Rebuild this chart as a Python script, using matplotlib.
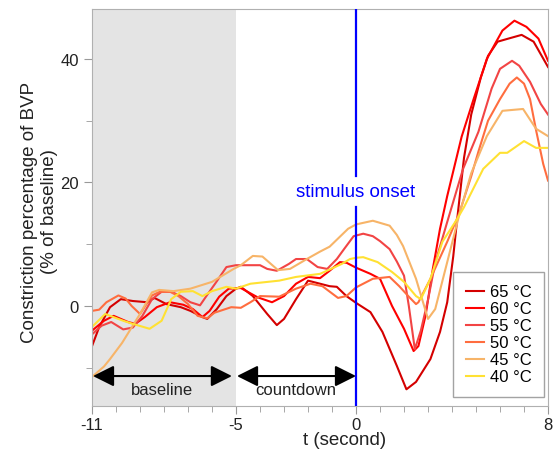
import numpy as np
import matplotlib
matplotlib.use('Agg')
import matplotlib.pyplot as plt
from matplotlib.ticker import MultipleLocator, FixedLocator

plt.rcParams['font.family'] = ['Liberation Sans', 'DejaVu Sans']
plt.rcParams['axes.unicode_minus'] = False

# time (s) and constriction (% of baseline) per stimulus temperature
T_65 = [-11, -10.7, -10.25, -9.8, -9.3, -8.7, -8.4, -7.9, -7.3, -6.9, -6.4, -6.2, -5.8, -5.4, -5.0, -4.8,
        -4.3, -3.7, -3.3, -3.0, -2.5, -2.0, -1.5, -1.1, -0.8, -0.4, 0.0, 0.6, 1.1, 1.7, 2.1, 2.5, 3.1,
        3.5, 3.8, 4.05, 4.2, 4.5, 4.8, 5.2, 5.5, 5.9, 6.35, 6.9, 7.4, 8.0]
V_65 = [-6.5, -3.4, -0.2, 1.1, 0.8, 0.6, 1.3, 0.3, -0.2, -0.8, -1.8, -2.1, -0.5, 1.6, 2.8, 3.1,
        1.6, -1.3, -3.1, -2.1, 1.1, 4.1, 3.6, 3.2, 3.1, 1.6, 0.5, -1.0, -4.2, -9.7, -13.5, -12.3, -8.6,
        -4.2, 0.6, 8.0, 13.5, 24.0, 31.0, 37.0, 40.5, 42.8, 43.3, 43.9, 42.8, 38.7]

T_60 = [-11, -10.5, -10.1, -9.5, -9.2, -8.8, -8.3, -7.75, -7.2, -6.8, -6.4, -6.1, -5.7, -5.3, -4.8,
        -4.1, -3.5, -3.0, -2.5, -2.0, -1.5, -1.1, -0.67, -0.4, 0.0, 0.6, 1.0, 1.5, 2.0, 2.4, 2.6, 2.9,
        3.2, 3.5, 3.8, 4.4, 4.9, 5.45, 5.8, 6.1, 6.6, 7.1, 7.6, 8.0]
V_60 = [-4.0, -2.4, -1.6, -2.6, -2.9, -1.8, -0.2, 0.6, 0.2, -0.5, -1.8, -0.8, 1.5, 2.8, 2.9,
        1.4, 0.6, 1.6, 3.6, 4.7, 4.5, 5.7, 7.1, 7.0, 6.2, 5.2, 4.4, 0.0, -3.7, -7.3, -6.5, -1.5,
        6.0, 12.5, 17.8, 27.4, 33.5, 40.0, 42.5, 44.6, 46.2, 45.2, 43.3, 39.7]

T_55 = [-11, -10.6, -10.2, -9.7, -9.3, -8.9, -8.5, -8.1, -7.7, -7.3, -6.9, -6.5, -6.2, -5.8, -5.4,
        -5.0, -4.5, -4.0, -3.7, -3.3, -2.8, -2.5, -2.05, -1.6, -1.2, -0.8, -0.5, -0.1, 0.3, 0.7, 1.0,
        1.4, 1.7, 2.0, 2.2, 2.45, 2.7, 3.0, 3.3, 3.8, 4.46, 5.1, 5.65, 6.0, 6.5, 6.8, 7.25, 7.7, 8.0]
V_55 = [-4.6, -3.2, -2.6, -3.8, -3.5, -1.6, 1.1, 2.3, 2.3, 1.6, 0.6, 0.1, 1.8, 4.0, 6.3,
        6.6, 6.6, 6.6, 6.0, 5.7, 6.8, 7.6, 7.6, 6.3, 6.0, 7.6, 9.2, 11.3, 11.7, 11.3, 10.5,
        9.2, 7.2, 4.9, 0.0, -7.0, -4.0, 1.0, 7.0, 13.6, 22.2, 28.2, 35.2, 38.4, 39.7, 38.9, 36.3, 32.7, 31.0]

T_50 = [-11, -10.7, -10.4, -9.9, -9.6, -9.35, -9.0, -8.5, -8.17, -7.75, -7.4, -7.0, -6.6, -6.2, -5.9,
        -5.2, -4.8, -4.4, -4.0, -3.2, -2.5, -1.9, -1.4, -0.75, -0.4, 0.0, 0.7, 1.4, 1.8, 2.2, 2.5,
        2.6, 3.1, 3.8, 4.3, 4.8, 5.1, 5.5, 6.0, 6.4, 6.7, 7.0, 7.25, 7.5, 7.8, 8.0]
V_50 = [-0.8, -0.6, 0.6, 1.7, 1.2, 0.0, -1.3, 1.7, 2.3, 2.3, 1.6, 0.3, -1.6, -2.0, -1.1,
        -0.2, -0.3, 0.6, 1.6, 1.5, 2.8, 3.6, 3.2, 1.3, 1.6, 3.0, 4.4, 4.7, 3.2, 1.5, 0.3,
        0.6, 4.4, 10.4, 15.0, 21.0, 25.0, 30.0, 33.5, 36.0, 37.0, 36.0, 33.5, 28.5, 23.0, 20.3]

T_45 = [-11, -10.5, -10.25, -9.75, -9.0, -8.5, -8.2, -7.6, -6.9, -6.0, -5.1, -4.8, -4.3, -3.9, -3.25,
        -2.75, -2.05, -1.5, -1.1, -0.33, 0.0, 0.7, 1.4, 1.7, 1.96, 2.5, 3.0, 3.3, 3.8, 4.33, 4.8,
        5.45, 6.1, 6.96, 7.5, 8.0]
V_45 = [-11.5, -9.8, -8.6, -6.0, -1.3, 2.2, 2.6, 2.4, 2.8, 3.9, 6.0, 6.6, 8.1, 8.0, 5.8,
        6.0, 7.6, 8.8, 9.6, 12.5, 13.2, 13.8, 13.0, 11.5, 9.7, 4.4, -2.1, -0.5, 7.1, 15.2, 21.5,
        27.5, 31.6, 31.9, 28.7, 27.5]

T_40 = [-11, -10.45, -9.7, -9.3, -8.6, -8.1, -7.7, -7.3, -6.8, -6.4, -6.0, -5.4, -5.0, -4.4, -3.2,
        -2.5, -1.5, -1.1, -0.6, -0.25, 0.0, 0.3, 0.9, 1.5, 2.0, 2.5, 2.7, 3.1, 3.6, 4.2, 4.5, 5.3,
        6.0, 6.3, 7.0, 7.5, 8.0]
V_40 = [-3.4, -1.3, -2.4, -2.9, -3.7, -2.4, 1.1, 2.3, 2.4, 1.6, 2.4, 3.1, 2.8, 3.6, 4.1,
        4.7, 5.2, 5.9, 6.8, 7.6, 7.8, 7.9, 7.1, 5.5, 3.9, 1.6, 1.1, 4.4, 10.4, 14.0, 16.0, 22.2,
        24.8, 24.8, 26.7, 25.6, 25.6]

LABELS = ['65 °C', '60 °C', '55 °C', '50 °C', '45 °C', '40 °C']
SERIES = [(T_65, V_65), (T_60, V_60), (T_55, V_55), (T_50, V_50), (T_45, V_45), (T_40, V_40)]
COLORS = ['#d40000', '#ff0000', '#f24444', '#ff6d3f', '#f7b468', '#ffe133']

X_TICKS = [-11, -5, 0, 8]
Y_TICKS = [0, 20, 40]

fig = plt.figure(figsize=(5.53, 4.52), dpi=100)
ax = fig.add_axes([0.1664, 0.0996, 0.8246, 0.8784])

ax.axvspan(-11, -5, color='#e4e4e4', zorder=0, lw=0)

for (t, v), c, lab in zip(SERIES, COLORS, LABELS):
    ax.plot(t, v, color=c, lw=1.5, label=lab, zorder=2)

ax.set_xlim(-11, 8)
ax.set_ylim(-16.2, 48.1)

# stimulus onset line with a gap for the label
ax.axvline(0, ymin=0, ymax=0.5008, color='#0000ff', lw=1.6, zorder=3)
ax.axvline(0, ymin=0.5785, ymax=1, color='#0000ff', lw=1.6, zorder=3)
ax.text(0, 18.6, 'stimulus onset', color='#0000ff', fontsize=13.5, ha='center', va='center')

# baseline / countdown arrows
arrow = dict(arrowstyle='<|-|>', color='black', lw=1.5, mutation_scale=32, shrinkA=0, shrinkB=0)
ax.annotate('', xy=(-5.17, -11.35), xytext=(-10.96, -11.35), arrowprops=arrow)
ax.annotate('', xy=(0.0, -11.35), xytext=(-4.96, -11.35), arrowprops=arrow)
ax.text(-8.1, -13.5, 'baseline', fontsize=12, ha='center', va='center', color='#222222')
ax.text(-2.5, -13.5, 'countdown', fontsize=12, ha='center', va='center', color='#222222')

ax.xaxis.set_major_locator(FixedLocator(X_TICKS))
ax.xaxis.set_minor_locator(MultipleLocator(1))
ax.yaxis.set_major_locator(FixedLocator(Y_TICKS))
ax.yaxis.set_minor_locator(FixedLocator([-10, 10, 30]))
ax.tick_params(which='major', length=6, color='#999999', labelsize=12, labelcolor='#222222')
ax.tick_params(axis='x', which='major', pad=2)
ax.tick_params(which='minor', length=4, color='#999999')

for sp in ax.spines.values():
    sp.set_color('#b0b0b0')

ax.set_xlabel('t (second)', fontsize=13.5, color='#222222')
ax.xaxis.set_label_coords(0.553, -0.062)
ax.set_ylabel('Constriction percentage of BVP\n(% of baseline)', fontsize=13.5, color='#222222',
              linespacing=1.25)
ax.yaxis.set_label_coords(-0.0746, 0.491)

leg = ax.legend(loc='lower right', bbox_to_anchor=(0.991, 0.0227), fontsize=12, frameon=True,
                fancybox=False, labelspacing=0.12, handlelength=1.1, handletextpad=0.35,
                borderpad=0.75, borderaxespad=0)
leg.get_frame().set_edgecolor('#8c8c8c')
leg.get_frame().set_linewidth(1.0)

fig.savefig('out.png', dpi=100)
